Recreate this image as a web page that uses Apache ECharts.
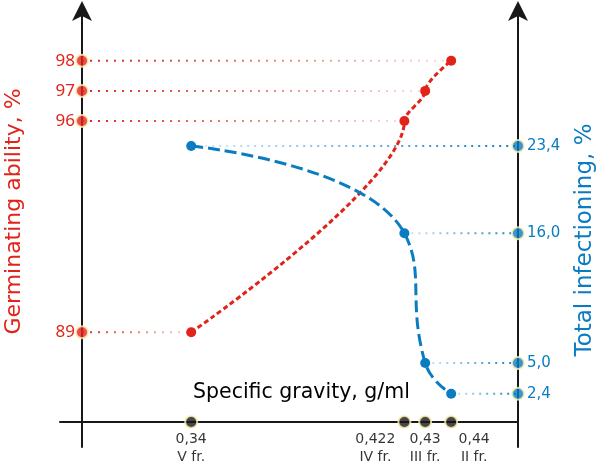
<!DOCTYPE html>
<html><head><meta charset="utf-8">
<script src="https://cdn.jsdelivr.net/npm/echarts@6/dist/echarts.min.js"></script>
<style>html,body{margin:0;padding:0;background:#fff}#c{width:600px;height:467px}</style>
</head><body><div id="c"></div>
<script>
// ---- data ----
const gravity = [0.34, 0.422, 0.43, 0.44];
const gravityLabels = ['0,34', '0,422', '0,43', '0,44'];
const fractions = ['V fr.', 'IV fr.', 'III fr.', 'II fr.'];
const germination = [89, 96, 97, 98];
const infection = [23.4, 16.0, 5.0, 2.4];

// ---- axis ranges ----
const X_MIN = 0.298, X_MAX = 0.4657;
const G_MIN = 85.2, G_MAX = 99.68;
const I_MIN = -2.12, I_MAX = 34.92;

// ---- styles ----
const RED = '#e2231a', BLUE = '#0a7cc1', INK = '#1a1718', RIM = '#fbf2b6';
const LABEL_NUDGE = [0, -29, 0, 23];

function grad(c0, c1) {
  return {type: 'linear', x: 0, y: 0, x2: 1, y2: 0,
    colorStops: [{offset: 0, color: c0}, {offset: 1, color: c1}]};
}

const series = [];
germination.forEach((g, i) => {
  series.push({type: 'line', xAxisIndex: 0, yAxisIndex: 0, silent: true, showSymbol: false, z: 1,
    data: [[X_MIN, g], [gravity[i], g]],
    lineStyle: {width: 2, type: [2, 6], color: grad(RED, 'rgba(226,35,26,0.15)')}});
});
infection.forEach((v, i) => {
  series.push({type: 'line', xAxisIndex: 0, yAxisIndex: 1, silent: true, showSymbol: false, z: 1,
    data: [[gravity[i], v], [X_MAX, v]],
    lineStyle: {width: 2, type: [2, 5], color: grad('rgba(10,124,193,0.15)', BLUE)}});
});
series.push({type: 'line', name: 'Germinating ability', xAxisIndex: 0, yAxisIndex: 0, z: 3,
  data: gravity.map((x, i) => [x, germination[i]]),
  smooth: 0.3, smoothMonotone: 'y', symbol: 'circle', symbolSize: 10,
  itemStyle: {color: RED}, lineStyle: {color: RED, width: 3, type: [5, 3]}});
series.push({type: 'line', name: 'Total infectioning', xAxisIndex: 0, yAxisIndex: 1, z: 3,
  data: gravity.map((x, i) => [x, infection[i]]),
  smooth: 0.5, symbol: 'circle', symbolSize: 10,
  itemStyle: {color: BLUE}, lineStyle: {color: BLUE, width: 3, type: [12, 5]}});
series.push({type: 'scatter', xAxisIndex: 0, yAxisIndex: 0, clip: false, z: 5, symbolSize: 12,
  data: germination.map(g => [X_MIN, g]),
  itemStyle: {color: RED, borderColor: RIM, borderWidth: 2}});
series.push({type: 'scatter', xAxisIndex: 0, yAxisIndex: 1, clip: false, z: 5, symbolSize: 12,
  data: infection.map(v => [X_MAX, v]),
  itemStyle: {color: BLUE, borderColor: RIM, borderWidth: 2}});
series.push({type: 'scatter', xAxisIndex: 0, yAxisIndex: 1, clip: false, z: 5, symbolSize: 12,
  data: gravity.map((x, i) => ({value: [x, 0], label: {offset: [LABEL_NUDGE[i], 0]}})),
  itemStyle: {color: INK, borderColor: RIM, borderWidth: 2},
  label: {show: true, position: 'bottom', distance: 1, color: '#000',
    fontFamily: 'DejaVu Sans', fontSize: 14, lineHeight: 18, align: 'center',
    formatter: p => gravityLabels[p.dataIndex] + '\n' + fractions[p.dataIndex]}});

const axisLineStyle = {color: INK, width: 2};
const option = {
  animation: false,
  backgroundColor: '#fff',
  title: {text: 'Specific gravity, g/ml', left: 193, top: 382,
    textStyle: {fontFamily: 'DejaVu Sans', fontSize: 20.5, fontWeight: 'normal', color: '#000'}, padding: 0},
  grid: [
    {left: 82, right: 82, top: 10, bottom: 20, containLabel: false, outerBoundsMode: 'none'},
    {left: 60, right: 82, top: 10, bottom: 45, containLabel: false, outerBoundsMode: 'none'}
  ],
  xAxis: [
    {type: 'value', gridIndex: 0, min: X_MIN, max: X_MAX,
      axisLine: {show: true, onZero: true, onZeroAxisIndex: 1, lineStyle: axisLineStyle},
      axisTick: {show: false}, axisLabel: {show: false}, splitLine: {show: false}},
    {type: 'value', gridIndex: 1, min: 0, max: 1,
      axisLine: {show: true, lineStyle: axisLineStyle},
      axisTick: {show: false}, axisLabel: {show: false}, splitLine: {show: false}}
  ],
  yAxis: [
    {type: 'value', gridIndex: 0, position: 'left', min: G_MIN, max: G_MAX,
      axisLine: {show: true, symbol: ['none', 'arrow'], symbolSize: [15, 20], symbolOffset: [0, 9], lineStyle: axisLineStyle},
      axisTick: {show: false}, splitLine: {show: false},
      axisLabel: {customValues: germination, margin: 7, color: RED,
        fontFamily: 'Noto Sans', fontSize: 17, formatter: v => String(v)},
      name: 'Germinating ability, %', nameLocation: 'middle', nameRotate: 90, nameGap: 57,
      nameTextStyle: {fontFamily: 'DejaVu Sans', fontSize: 22, color: RED, padding: [0, 0, 0, 34]}},
    {type: 'value', gridIndex: 0, position: 'right', min: I_MIN, max: I_MAX,
      axisLine: {show: true, symbol: ['none', 'arrow'], symbolSize: [15, 20], symbolOffset: [0, 9], lineStyle: axisLineStyle},
      axisTick: {show: false}, splitLine: {show: false},
      axisLabel: {customValues: infection, margin: 9, color: BLUE,
        fontFamily: 'DejaVu Sans', fontSize: 15, formatter: v => v.toFixed(1).replace('.', ',')},
      name: 'Total infectioning, %', nameLocation: 'middle', nameRotate: 90, nameGap: 56,
      nameTextStyle: {fontFamily: 'DejaVu Sans', fontSize: 23, color: BLUE, padding: [0, 23, 0, 0]}},
    {type: 'value', gridIndex: 1, show: false, min: 0, max: 1}
  ],
  series: series
};
const chart = echarts.init(document.getElementById('c'), null, {renderer: 'canvas'});
chart.setOption(option);
</script></body></html>
